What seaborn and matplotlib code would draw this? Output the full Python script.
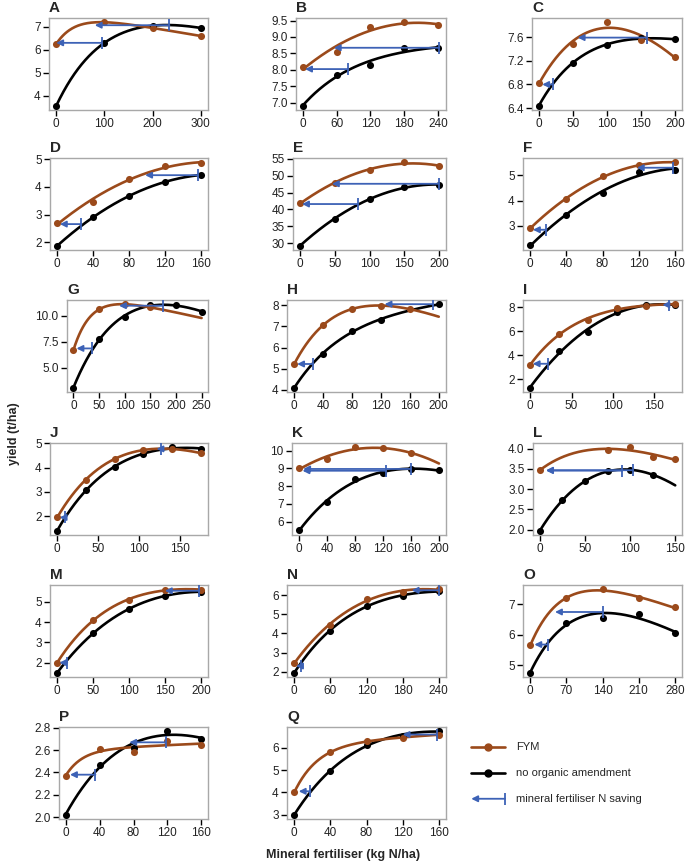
# Yield response to mineral N, with and without FYM, for 17 trials (A-Q).
import numpy as np
import matplotlib
matplotlib.use("Agg")
import matplotlib.pyplot as plt
import seaborn as sns

nan = np.nan

panels = list("ABCDEFGHIJKLMNOPQ")

# N doses (kg N/ha) per trial
n_dose = {
    "A": [0, 100, 200, 300],
    "B": [0, 60, 120, 180, 240],
    "C": [0, 50, 100, 150, 200],
    "D": [0, 40, 80, 120, 160],
    "E": [0, 50, 100, 150, 200],
    "F": [0, 40, 80, 120, 160],
    "G": [0, 50, 100, 150, 200, 250],
    "H": [0, 40, 80, 120, 160, 200],
    "I": [0, 35, 70, 105, 140, 175],
    "J": [0, 35, 70, 105, 140, 175],
    "K": [0, 40, 80, 120, 160, 200],
    "L": [0, 25, 50, 75, 100, 125, 150],
    "M": [0, 50, 100, 150, 200],
    "N": [0, 60, 120, 180, 240],
    "O": [0, 70, 140, 210, 280],
    "P": [0, 40, 80, 120, 160],
    "Q": [0, 40, 80, 120, 160],
}

# yield with FYM (t/ha)
fym_yield = {
    "A": [6.25, 7.2, 6.95, 6.6],
    "B": [8.08, 8.55, 9.3, 9.45, 9.35],
    "C": [6.82, 7.48, 7.85, 7.55, 7.27],
    "D": [2.7, 3.45, 4.3, 4.75, 4.85],
    "E": [41.8, 47.8, 51.7, 54.0, 52.8],
    "F": [2.92, 4.05, 4.95, 5.38, 5.5],
    "G": [6.7, 10.6, 11.1, 10.8, nan, nan],
    "H": [5.22, 7.05, 7.84, 7.97, 7.82, nan],
    "I": [3.2, 5.8, 6.93, 7.94, 8.1, 8.25],
    "J": [1.95, 3.5, 4.37, 4.72, 4.76, 4.6],
    "K": [9.0, 9.53, 10.2, 10.15, 9.86, nan],
    "L": [3.47, nan, nan, 3.97, 4.04, 3.79, 3.75],
    "M": [2.0, 4.1, 5.1, 5.6, 5.6],
    "N": [2.45, 4.45, 5.8, 6.15, 6.3],
    "O": [5.65, 7.2, 7.5, 7.2, 6.9],
    "P": [2.37, 2.61, 2.58, 2.68, 2.65],
    "Q": [4.0, 5.8, 6.3, 6.45, 6.6],
}

# yield without organic amendment (t/ha)
ctrl_yield = {
    "A": [3.55, 6.3, 7.05, 6.95],
    "B": [6.9, 7.85, 8.15, 8.65, 8.65],
    "C": [6.44, 7.17, 7.47, 7.58, 7.56],
    "D": [1.88, 2.9, 3.68, 4.17, 4.43],
    "E": [29.3, 37.2, 43.0, 46.6, 47.3],
    "F": [2.25, 3.42, 4.28, 5.13, 5.2],
    "G": [3.1, 7.75, 9.9, 11.0, 11.0, 10.4],
    "H": [4.1, 5.7, 6.8, 7.3, nan, 8.05],
    "I": [1.3, 4.39, 5.94, 7.58, 8.22, 8.15],
    "J": [1.4, 3.09, 4.02, 4.55, 4.84, 4.77],
    "K": [5.5, 7.1, 8.38, 8.77, 8.95, 8.9],
    "L": [1.97, 2.72, 3.2, 3.44, 3.48, 3.36, nan],
    "M": [1.5, 3.45, 4.65, 5.3, 5.5],
    "N": [1.95, 4.15, 5.45, 5.95, 6.2],
    "O": [4.75, 6.4, 6.55, 6.7, 6.05],
    "P": [2.02, 2.47, 2.62, 2.77, 2.7],
    "Q": [3.0, 4.95, 6.15, 6.55, 6.75],
}

# N saving arrows: (N rate with FYM, N rate without, yield level)
n_saving = {
    "A": [(0, 95, 6.3), (80, 235, 7.07)],
    "B": [(4, 81, 8.02), (55, 242, 8.67)],
    "C": [(5, 21, 6.8), (57, 158, 7.59)],
    "D": [(3, 27, 2.66), (98, 157, 4.42)],
    "E": [(3, 84, 41.6), (46, 200, 47.6)],
    "F": [(3, 18, 2.85), (118, 158, 5.29)],
    "G": [(6, 37, 6.87), (89, 174, 10.96)],
    "H": [(4, 26, 5.22), (125, 192, 8.05)],
    "I": [(3, 21, 3.3), (160, 168, 8.2)],
    "J": [(3, 10, 1.95), (121, 127, 4.77)],
    "K": [(5, 124, 8.87), (6, 160, 8.97)],
    "L": [(7, 91, 3.46), (7, 103, 3.47)],
    "M": [(3, 14, 2.0), (150, 198, 5.55)],
    "N": [(3, 12, 2.3), (195, 240, 6.25)],
    "O": [(8, 35, 5.68), (48, 140, 6.75)],
    "P": [(5, 35, 2.38), (75, 118, 2.67)],
    "Q": [(5, 18, 4.05), (120, 158, 6.6)],
}

x_ticks = {
    "A": [0, 100, 200, 300], "B": [0, 60, 120, 180, 240], "C": [0, 50, 100, 150, 200],
    "D": [0, 40, 80, 120, 160], "E": [0, 50, 100, 150, 200], "F": [0, 40, 80, 120, 160],
    "G": [0, 50, 100, 150, 200, 250], "H": [0, 40, 80, 120, 160, 200], "I": [0, 50, 100, 150],
    "J": [0, 50, 100, 150], "K": [0, 40, 80, 120, 160, 200], "L": [0, 50, 100, 150],
    "M": [0, 50, 100, 150, 200], "N": [0, 60, 120, 180, 240], "O": [0, 70, 140, 210, 280],
    "P": [0, 40, 80, 120, 160], "Q": [0, 40, 80, 120, 160],
}

y_ticks = {
    "A": [4, 5, 6, 7], "B": [7.0, 7.5, 8.0, 8.5, 9.0, 9.5], "C": [6.4, 6.8, 7.2, 7.6],
    "D": [2, 3, 4, 5], "E": [30, 35, 40, 45, 50, 55], "F": [3, 4, 5],
    "G": [5.0, 7.5, 10.0], "H": [4, 5, 6, 7, 8], "I": [2, 4, 6, 8],
    "J": [2, 3, 4, 5], "K": [6, 7, 8, 9, 10], "L": [2.0, 2.5, 3.0, 3.5, 4.0],
    "M": [2, 3, 4, 5], "N": [2, 3, 4, 5, 6], "O": [5, 6, 7],
    "P": [2.0, 2.2, 2.4, 2.6, 2.8], "Q": [3, 4, 5, 6],
}

fym_col = "#9b4a1b"
ctrl_col = "black"
arrow_col = "#3d62b6"

W, H = 685, 867
# axes layout in pixels: left edge per panel, shared right edge per column, row tops
ax_left = {"A": 49, "B": 296, "C": 532, "D": 50, "E": 293, "F": 523, "G": 67, "H": 287,
           "I": 523, "J": 50, "K": 292, "L": 533, "M": 50, "N": 287, "O": 523, "P": 59, "Q": 287}
col_right = [208, 446, 682]
row_top = [18, 158, 300, 443, 585, 727]
ax_h = 92


def fit_curve(x, y, xmax):
    # linear-plus-exponential response curve (y = a + b*r^N + c*N), least squares
    x = np.asarray(x, float)
    y = np.asarray(y, float)
    ok = ~np.isnan(y)
    x, y = x[ok], y[ok]
    grid = np.linspace(0, xmax, 200)
    best = None
    for r in np.linspace(0.95, 0.9998, 1500):
        A = np.column_stack([np.ones_like(x), r ** x, x])
        coef, *_ = np.linalg.lstsq(A, y, rcond=None)
        sse = np.sum((A @ coef - y) ** 2)
        if best is None or sse < best[0]:
            best = (sse, r, coef)
    _, r, coef = best
    return grid, coef[0] + coef[1] * r ** grid + coef[2] * grid


sns.set_theme(style="ticks")
plt.rcParams["font.family"] = ["Liberation Sans", "DejaVu Sans"]

fig = plt.figure(figsize=(W / 100, H / 100), dpi=100)

for i, p in enumerate(panels):
    r, c = divmod(i, 3)
    left = ax_left[p]
    ax = fig.add_axes([left / W, 1 - (row_top[r] + ax_h) / H,
                       (col_right[c] - left) / W, ax_h / H])
    xs = n_dose[p]
    xmax = max(xs)

    for ys, col in [(ctrl_yield[p], ctrl_col), (fym_yield[p], fym_col)]:
        gx, gy = fit_curve(xs, ys, xmax)
        sns.lineplot(x=gx, y=gy, color=col, lw=1.9, ax=ax, zorder=2)
        sns.scatterplot(x=xs, y=ys, color=col, s=26, linewidth=0, ax=ax, zorder=3)

    for x_fym, x_ctrl, yl in n_saving[p]:
        ax.annotate("", xy=(x_fym, yl), xytext=(x_ctrl, yl),
                    arrowprops=dict(arrowstyle="-|>", color=arrow_col, lw=1.3,
                                    mutation_scale=9, shrinkA=0, shrinkB=0), zorder=4)
        ax.plot([x_ctrl], [yl], marker="|", ms=8, mew=1.3, color=arrow_col, zorder=4)

    ax.set_xticks(x_ticks[p])
    ax.set_yticks(y_ticks[p])
    ax.tick_params(direction="out", length=4, width=1, color="black",
                   labelsize=8.5, pad=2, labelcolor="#222222")
    for s in ax.spines.values():
        s.set_color("#a8a8a8")
        s.set_linewidth(1)
    ax.set_xlabel("")
    ax.set_ylabel("")
    ax.text(0.0, 1.03, p, transform=ax.transAxes, fontsize=11, fontweight="bold",
            ha="left", va="bottom")

# legend in the empty slot
lax = fig.add_axes([460 / W, 1 - (row_top[5] + ax_h) / H, 225 / W, ax_h / H])
lax.set_xlim(0, 1)
lax.set_ylim(0, 1)
lax.axis("off")
legend_rows = [("FYM", fym_col), ("no organic amendment", ctrl_col)]
for k, (lab, col) in enumerate(legend_rows):
    yy = 0.78 - k * 0.28
    lax.plot([0.05, 0.2], [yy, yy], color=col, lw=1.9)
    lax.plot([0.125], [yy], marker="o", ms=5, color=col)
    lax.text(0.25, yy, lab, va="center", fontsize=8)
yy = 0.22
lax.annotate("", xy=(0.05, yy), xytext=(0.2, yy),
             arrowprops=dict(arrowstyle="-|>", color=arrow_col, lw=1.3,
                             mutation_scale=9, shrinkA=0, shrinkB=0))
lax.plot([0.2], [yy], marker="|", ms=8, mew=1.3, color=arrow_col)
lax.text(0.25, yy, "mineral fertiliser N saving", va="center", fontsize=8)

fig.text(14 / W, 0.5, "yield (t/ha)", rotation=90, fontsize=9, fontweight="bold",
         ha="center", va="center")
fig.text(343 / W, 1 - 855 / H, "Mineral fertiliser (kg N/ha)", fontsize=9,
         fontweight="bold", ha="center", va="center")

fig.savefig("out.png", dpi=100)
